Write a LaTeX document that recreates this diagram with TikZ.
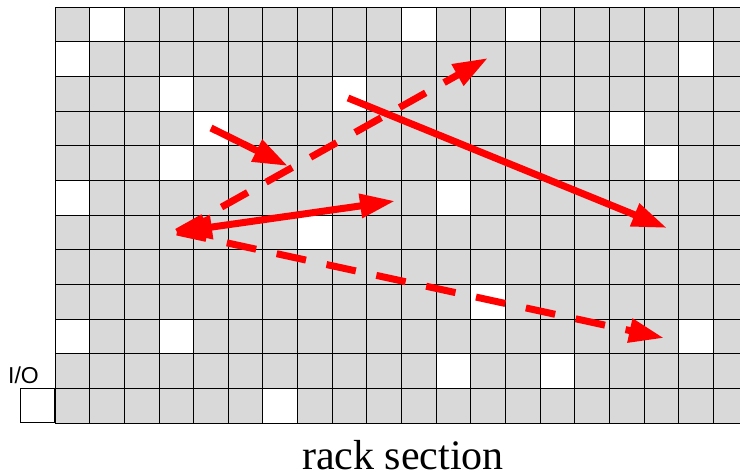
\documentclass[tikz,border=0pt]{standalone}
\usepackage{fontspec}
\setmainfont{Liberation Serif}
\setsansfont{Liberation Sans}
\usetikzlibrary{arrows.meta}

\definecolor{rackgray}{RGB}{217,217,217}
\newcommand{\cellsz}{34.65}

\begin{document}
\begin{tikzpicture}[
  x=1pt, y=-1pt,
  gridline/.style={draw=black, line width=0.9pt},
  iobox/.style={draw=black, line width=0.9pt, fill=white, inner sep=0pt,
                minimum width=34.3pt, minimum height=34.4pt},
  move/.style={draw=red, line width=7pt, -{Triangle[length=35pt, width=23pt]}},
  dmove/.style={move, dash pattern=on 30pt off 21pt},
]
\useasboundingbox (0,0) rectangle (740,473);
\clip (0,0) rectangle (740,473);

% rack cells
\fill[rackgray] (55,7.3) rectangle (748,423.1);
\foreach \c/\r in {1/0,10/0,13/0,0/1,18/1,3/2,8/2,4/3,14/3,16/3,3/4,17/4,
                   0/5,11/5,7/6,12/8,0/9,3/9,18/9,11/10,14/10,6/11}
  \fill[white] ({55+\c*\cellsz},{7.3+\r*\cellsz}) rectangle +(\cellsz,\cellsz);
\foreach \c in {0,...,20}
  \draw[gridline] ({55+\c*\cellsz},7.3) -- ({55+\c*\cellsz},423.1);
\foreach \r in {0,...,12}
  \draw[gridline] (55,{7.3+\r*\cellsz}) -- (748,{7.3+\r*\cellsz});

% I/O point
\node[iobox, anchor=south east] (io) at (55,423.1) {};
\node[font=\sffamily\fontsize{23}{27}\selectfont, anchor=base west, inner sep=0pt]
  (iolbl) at (8,383.3) {I/O};

\node[font=\fontsize{42}{50}\selectfont, anchor=base, inner sep=0pt]
  (title) at (403,470) {rack section};

% moves
\coordinate (hub) at (177,232);
\coordinate (m1s) at (211,128);
\coordinate (m1e) at (288,166);
\coordinate (m2s) at (348,98);
\coordinate (m2e) at (667,228);
\coordinate (m3e) at (395,201);
\coordinate (m4e) at (488,58);
\coordinate (m5e) at (664,338);

\draw[move] (m1s) -- (m1e);
\draw[move] (m2s) -- (m2e);
\draw[move, {Triangle[length=35pt, width=23pt]}-{Triangle[length=35pt, width=23pt]}] (hub) -- (m3e);
\draw[dmove] (hub) -- (m4e);
\draw[dmove] (hub) -- (m5e);

\end{tikzpicture}
\end{document}
